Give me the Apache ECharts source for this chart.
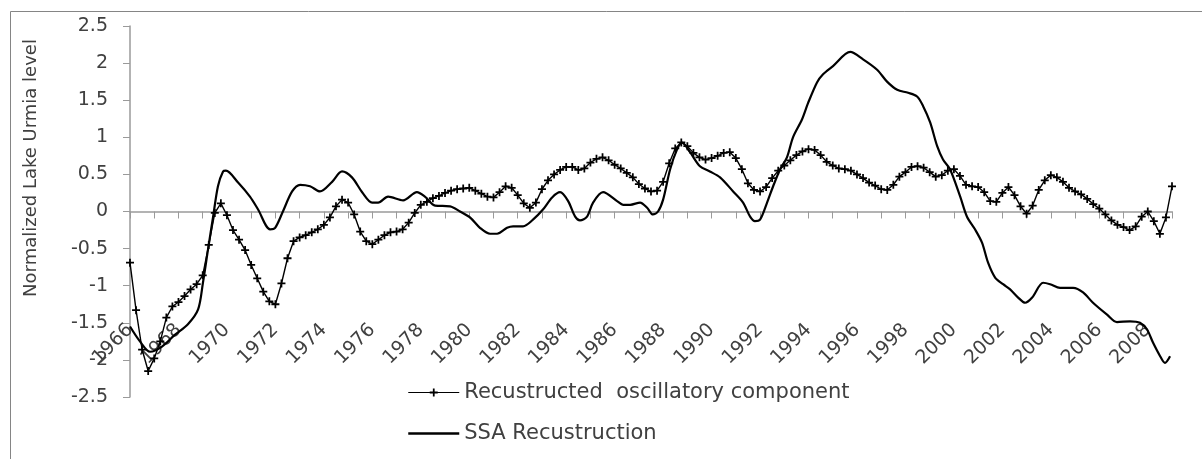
<!DOCTYPE html>
<html>
<head>
<meta charset="utf-8">
<script src="https://cdn.jsdelivr.net/npm/echarts@6/dist/echarts.min.js"></script>
<style>
html,body{margin:0;padding:0;background:#fff;}
#chart{width:1202px;height:459px;}
</style>
</head>
<body>
<div id="chart"></div>
<script>
// ---- data ----
const seriesNames = ['Recustructed  oscillatory component', 'SSA Recustruction'];
const axisTitle = 'Normalized Lake Urmia level';
const labelYears = [1966,1968,1970,1972,1974,1976,1978,1980,1982,1984,1986,1988,1990,1992,1994,1996,1998,2000,2002,2004,2006,2008];

// oscillatory component, quarterly values starting 1966.0
const oscStart = 1966;
const oscPerYear = 4;
const oscValues = [
 -0.69,-1.33,-1.86,-2.15,
 -1.98,-1.75,-1.43,-1.28,
 -1.22,-1.14,-1.05,-0.98,
 -0.86,-0.45,-0.02,0.11,
 -0.05,-0.25,-0.38,-0.52,
 -0.72,-0.90,-1.08,-1.21,
 -1.25,-0.97,-0.63,-0.40,
 -0.35,-0.32,-0.28,-0.24,
 -0.18,-0.08,0.07,0.16,
 0.12,-0.04,-0.27,-0.40,
 -0.44,-0.38,-0.32,-0.28,
 -0.27,-0.24,-0.15,-0.02,
 0.09,0.13,0.18,0.21,
 0.25,0.28,0.30,0.31,
 0.32,0.28,0.24,0.20,
 0.19,0.26,0.34,0.32,
 0.22,0.11,0.05,0.12,
 0.30,0.42,0.50,0.56,
 0.60,0.60,0.56,0.58,
 0.66,0.71,0.73,0.69,
 0.63,0.58,0.52,0.46,
 0.37,0.31,0.27,0.28,
 0.40,0.65,0.85,0.93,
 0.88,0.79,0.73,0.70,
 0.72,0.75,0.79,0.80,
 0.72,0.57,0.38,0.29,
 0.27,0.33,0.45,0.55,
 0.62,0.69,0.76,0.81,
 0.84,0.83,0.76,0.67,
 0.62,0.58,0.57,0.55,
 0.50,0.45,0.39,0.35,
 0.30,0.29,0.36,0.47,
 0.53,0.60,0.61,0.59,
 0.53,0.47,0.49,0.55,
 0.57,0.48,0.36,0.34,
 0.33,0.26,0.14,0.13,
 0.25,0.33,0.22,0.07,
 -0.03,0.08,0.29,0.42,
 0.49,0.46,0.40,0.32,
 0.27,0.23,0.17,0.10,
 0.04,-0.04,-0.12,-0.18,
 -0.21,-0.25,-0.20,-0.07,
 0.00,-0.13,-0.30,-0.08,
 0.34
];

// SSA reconstruction, read at key points
const ssaYears = [
 1966.00,1966.41,1966.83,1967.32,1967.86,1968.39,1968.81,1969.01,1969.22,1969.43,1969.63,1969.84,1969.96,
 1970.46,1970.95,1971.28,1971.78,1971.99,1972.31,1972.69,1973.02,1973.43,1973.84,1974.34,1974.75,1975.16,
 1975.58,1975.99,1976.24,1976.65,1977.27,1977.84,1978.17,1978.59,1979.21,1979.62,1980.03,1980.44,1980.86,
 1981.15,1981.56,1981.81,1982.22,1982.63,1983.05,1983.42,1983.75,1984.08,1984.37,1984.57,1984.86,1985.11,
 1985.52,1986.10,1986.35,1986.64,1987.05,1987.34,1987.58,1987.79,1988.00,1988.29,1988.58,1988.78,1989.11,
 1989.52,1989.93,1990.35,1990.89,1991.30,1991.59,1991.79,1992.00,1992.29,1992.54,1992.83,1993.11,1993.36,
 1993.73,1993.98,1994.35,1994.60,1995.01,1995.72,1996.25,1996.83,1997.24,1997.66,1998.11,1998.48,1998.73,
 1999.02,1999.31,1999.55,1999.84,2000.26,2000.54,2000.87,2001.16,2001.41,2001.70,2002.03,2002.32,2002.65,
 2002.94,2003.23,2003.68,2003.97,2004.38,2004.92,2005.33,2005.74,2006.32,2006.73,2007.27,2007.68,2007.97,
 2008.22,2008.51,2008.71,2008.92
];
const ssaValues = [
 -1.55,-1.75,-1.89,-1.82,-1.66,-1.52,-1.32,-0.96,-0.51,-0.07,0.34,0.54,0.55,
 0.39,0.20,0.03,-0.24,-0.22,0.00,0.27,0.36,0.34,0.27,0.40,0.54,0.46,
 0.26,0.12,0.12,0.20,0.15,0.26,0.20,0.08,0.07,0.00,-0.08,-0.22,-0.30,
 -0.30,-0.22,-0.20,-0.20,-0.11,0.03,0.19,0.26,0.14,-0.07,-0.12,-0.07,0.12,
 0.26,0.14,0.09,0.09,0.12,0.05,-0.04,0.00,0.16,0.57,0.84,0.93,0.80,
 0.61,0.54,0.46,0.27,0.12,-0.07,-0.13,-0.11,0.12,0.34,0.57,0.73,1.00,
 1.24,1.46,1.74,1.85,1.96,2.15,2.05,1.91,1.75,1.64,1.60,1.55,1.42,
 1.20,0.88,0.70,0.57,0.20,-0.07,-0.24,-0.42,-0.69,-0.89,-0.98,-1.05,-1.16,
 -1.23,-1.16,-0.96,-0.98,-1.03,-1.03,-1.09,-1.23,-1.39,-1.49,-1.48,-1.50,-1.59,
 -1.77,-1.95,-2.04,-1.95
];

// ---- build ----
const oscData = oscValues.map((v, i) => [oscStart + i / oscPerYear, v]);
const ssaData = ssaYears.map((y, i) => [y, ssaValues[i]]);

const FONT = 'DejaVu Sans';
const TXT = '#404040';
const AX = '#9a9a9a';
const plus = 'path://M3.9,0H6.1V3.9H10V6.1H6.1V10H3.9V6.1H0V3.9H3.9Z';

const chart = echarts.init(document.getElementById('chart'));
chart.setOption({
  animation: false,
  backgroundColor: '#ffffff',
  grid: { left: 130, right: 30, top: 26, bottom: 62, containLabel: false, outerBoundsMode: 'none' },
  xAxis: {
    type: 'value', min: 1966, max: 2009, interval: 1,
    axisLine: { onZero: true, lineStyle: { color: AX, width: 1.5 } },
    axisTick: { show: true, length: 7, lineStyle: { color: AX, width: 1 } },
    splitLine: { show: false },
    axisLabel: {
      rotate: 45, margin: -70, color: TXT, fontFamily: FONT, fontSize: 19,
      formatter: v => (labelYears.indexOf(v) >= 0 ? String(v) : '')
    }
  },
  yAxis: {
    type: 'value', min: -2.5, max: 2.5, interval: 0.5,
    axisLine: { show: true, onZero: false, lineStyle: { color: AX, width: 1.5 } },
    axisTick: { show: true, length: 7, lineStyle: { color: AX, width: 1 } },
    splitLine: { show: false },
    axisLabel: { margin: 22, color: TXT, fontFamily: FONT, fontSize: 19 }
  },
  legend: {
    orient: 'vertical', left: 407, top: 382, padding: 0,
    itemWidth: 51, itemHeight: 10, itemGap: 20,
    textStyle: { color: TXT, fontFamily: FONT, fontSize: 21 },
    data: [
      { name: seriesNames[0], lineStyle: { width: 1 } },
      { name: seriesNames[1], itemStyle: { opacity: 0 }, lineStyle: { width: 2.5 } }
    ]
  },
  graphic: [
    { type: 'rect', shape: { x: 10.5, y: 11.5, width: 1400, height: 600 },
      style: { fill: 'none', stroke: '#858585', lineWidth: 1 }, silent: true, z: -10 },
    { type: 'text', x: 31, y: 168, rotation: Math.PI / 2,
      style: { text: axisTitle, fill: TXT, font: '18px "DejaVu Sans"', textAlign: 'center', textVerticalAlign: 'middle' } }
  ],
  series: [
    {
      name: seriesNames[0], type: 'line', data: oscData,
      symbol: plus, symbolSize: 8, showSymbol: true, showAllSymbol: true,
      lineStyle: { color: '#000', width: 1.4 },
      itemStyle: { color: '#000' },
      z: 3
    },
    {
      name: seriesNames[1], type: 'line', data: ssaData,
      symbol: 'none', smooth: 0.3,
      lineStyle: { color: '#000', width: 2.2 },
      itemStyle: { color: '#000' },
      z: 2
    }
  ]
});
</script>
</body>
</html>
